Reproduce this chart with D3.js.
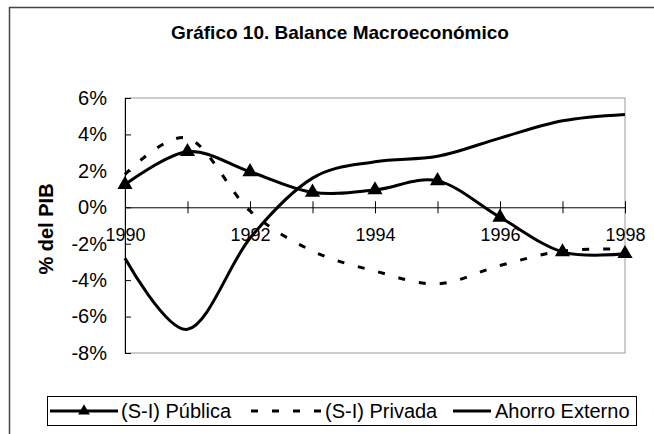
<!DOCTYPE html>
<html>
<head>
<meta charset="utf-8">
<script src="https://cdn.jsdelivr.net/npm/d3@7"></script>
<style>
  body { margin: 0; background: #fff; }
  svg { display: block; font-family: "Liberation Sans", Arial, sans-serif; }
</style>
</head>
<body>
<div id="chart"></div>
<script>
// data (% del PIB)
var years = [1990, 1991, 1992, 1993, 1994, 1995, 1996, 1997, 1998];
var publica = [1.25, 3.05, 1.95, 0.82, 0.95, 1.45, -0.55, -2.45, -2.55];
var privada = [1.8, 3.8, -0.2, -2.4, -3.5, -4.2, -3.2, -2.4, -2.3];
var ahorroExterno = [-2.8, -6.7, -1.7, 1.6, 2.5, 2.8, 3.8, 4.75, 5.1];
var yTicks = [-8, -6, -4, -2, 0, 2, 4, 6];
var xLabels = [1990, 1992, 1994, 1996, 1998];

var W = 654, H = 434;
var plot = { left: 125, top: 98, right: 625, bottom: 353 };

var svg = d3.select("#chart").append("svg")
    .attr("width", W)
    .attr("height", H);

// chart frame (runs off the right and bottom edges)
svg.append("rect")
    .attr("x", 9.5).attr("y", 7.5)
    .attr("width", 700).attr("height", 500)
    .attr("fill", "#fff")
    .attr("stroke", "#444")
    .attr("stroke-width", 1.5);

svg.append("text")
    .attr("x", 340).attr("y", 39)
    .attr("text-anchor", "middle")
    .attr("font-size", 19)
    .attr("font-weight", "bold")
    .text("Gráfico 10. Balance Macroeconómico");

var x = d3.scalePoint().domain(years).range([plot.left, plot.right]);
var y = d3.scaleLinear().domain([-8, 6]).range([plot.bottom, plot.top]);

// plot area border
svg.append("rect")
    .attr("x", plot.left).attr("y", plot.top)
    .attr("width", plot.right - plot.left)
    .attr("height", plot.bottom - plot.top)
    .attr("fill", "none")
    .attr("stroke", "#999")
    .attr("stroke-width", 1);

// y axis
var yAxis = svg.append("g")
    .attr("transform", "translate(" + plot.left + ",0)")
    .call(d3.axisLeft(y).tickValues(yTicks).tickSize(6).tickSizeOuter(0).tickPadding(12)
        .tickFormat(function(d) { return d + "%"; }));
yAxis.select(".domain").attr("stroke", "#000");
yAxis.selectAll(".tick line").attr("x2", 6).attr("stroke", "#000");
yAxis.selectAll(".tick text").attr("font-size", 20).attr("font-family", "Liberation Sans, Arial, sans-serif").attr("fill", "#000");

svg.append("text")
    .attr("transform", "translate(53,229) rotate(-90)")
    .attr("text-anchor", "middle")
    .attr("font-size", 20)
    .attr("font-weight", "bold")
    .text("% del PIB");

// x axis at 0%
var xAxis = svg.append("g")
    .attr("transform", "translate(0," + y(0) + ")")
    .call(d3.axisBottom(x).tickSize(6).tickSizeOuter(0).tickPadding(15)
        .tickFormat(function(d) { return xLabels.indexOf(d) >= 0 ? d : ""; }));
xAxis.select(".domain").attr("stroke", "#000");
xAxis.selectAll(".tick line").attr("y1", -6).attr("stroke", "#000");
xAxis.selectAll(".tick text").attr("font-size", 18).attr("font-family", "Liberation Sans, Arial, sans-serif").attr("fill", "#000");

function series(vals) {
  return years.map(function(yr, i) { return { year: yr, v: vals[i] }; });
}

// smoothed lines, close to the spreadsheet's smoothing
var line = d3.line()
    .x(function(d) { return x(d.year); })
    .y(function(d) { return y(d.v); })
    .curve(d3.curveCardinal.tension(0));

svg.append("path")
    .datum(series(ahorroExterno))
    .attr("fill", "none").attr("stroke", "#000").attr("stroke-width", 3)
    .attr("d", line);

svg.append("path")
    .datum(series(privada))
    .attr("fill", "none").attr("stroke", "#000").attr("stroke-width", 3)
    .attr("stroke-dasharray", "7,14")
    .attr("d", line);

svg.append("path")
    .datum(series(publica))
    .attr("fill", "none").attr("stroke", "#000").attr("stroke-width", 3)
    .attr("d", line);

var tri = d3.symbol().type(d3.symbolTriangle).size(100);
svg.selectAll(".marker")
    .data(series(publica))
    .enter().append("path")
    .attr("class", "marker")
    .attr("transform", function(d) { return "translate(" + x(d.year) + "," + y(d.v) + ")"; })
    .attr("d", tri)
    .attr("fill", "#000");

// legend
var legend = svg.append("g");
legend.append("rect")
    .attr("x", 47.5).attr("y", 396.5)
    .attr("width", 589).attr("height", 29)
    .attr("fill", "#fff")
    .attr("stroke", "#000")
    .attr("stroke-width", 1);

var ly = 411;
var items = [
  { label: "(S-I) Pública", x1: 50, x2: 118, tx: 121, dash: null, marker: true },
  { label: "(S-I) Privada", x1: 251, x2: 321, tx: 325, dash: "7,14", marker: false },
  { label: "Ahorro Externo", x1: 453, x2: 491, tx: 495, dash: null, marker: false }
];
items.forEach(function(it) {
  legend.append("line")
      .attr("x1", it.x1).attr("x2", it.x2)
      .attr("y1", ly).attr("y2", ly)
      .attr("stroke", "#000").attr("stroke-width", 3)
      .attr("stroke-dasharray", it.dash);
  if (it.marker) {
    legend.append("path")
        .attr("transform", "translate(" + ((it.x1 + it.x2) / 2) + "," + ly + ")")
        .attr("d", d3.symbol().type(d3.symbolTriangle).size(60))
        .attr("fill", "#000");
  }
  legend.append("text")
      .attr("x", it.tx).attr("y", ly + 7)
      .attr("font-size", 20)
      .text(it.label);
});
</script>
</body>
</html>
